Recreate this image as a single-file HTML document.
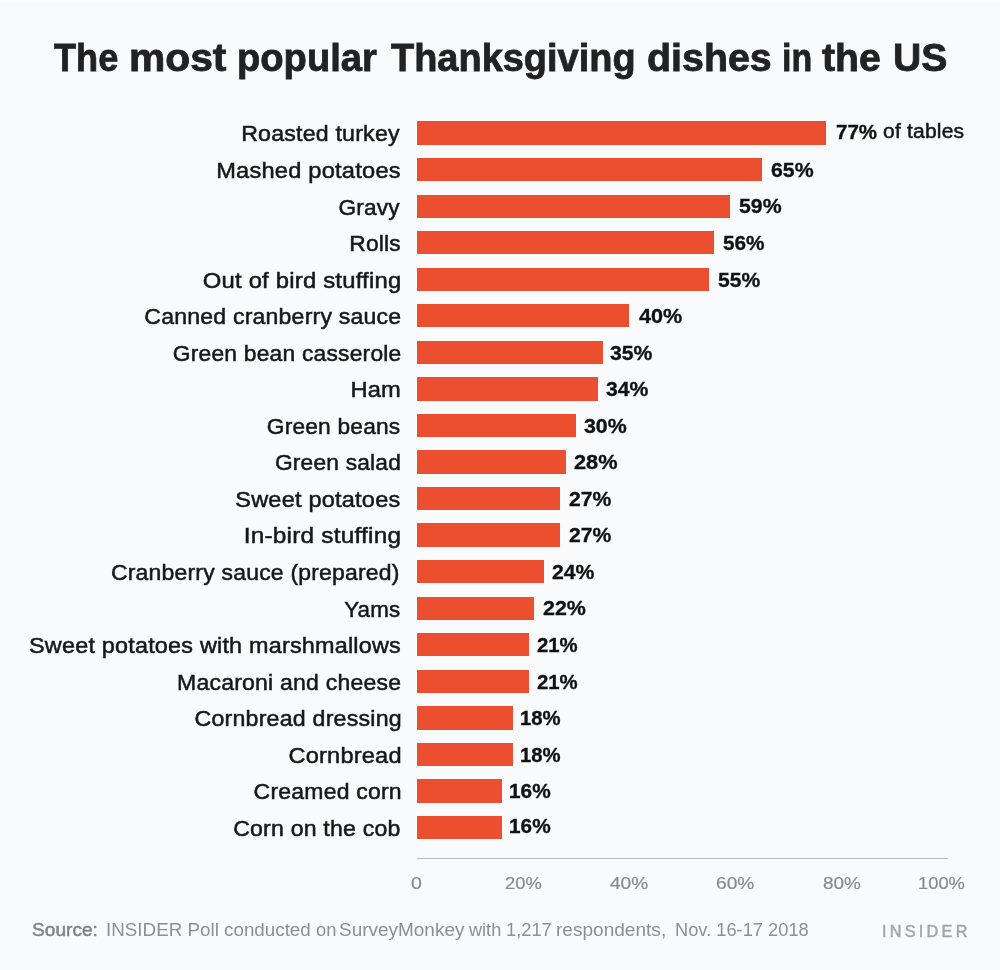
<!DOCTYPE html>
<html lang="en"><head><meta charset="utf-8"><title>The most popular Thanksgiving dishes in the US</title>
<style>
html,body{margin:0;padding:0}
body{width:1000px;height:970px;background:#f9fafc;position:relative;overflow:hidden;font-family:"Liberation Sans",Arial,sans-serif;color:#222}
h1{position:absolute;margin:0;left:0;top:33.5px;width:1000px;height:48px;font-size:39px;line-height:48px;font-weight:bold;color:#222;white-space:nowrap}
h1 span{position:absolute;top:0;display:block;transform-origin:left center;-webkit-text-stroke:0.8px #222}
.lab{position:absolute;height:24px;line-height:24px;font-size:22px;letter-spacing:0.2px;color:#171717;white-space:nowrap;-webkit-text-stroke:0.5px #171717;transform-origin:right center}
.bar{position:absolute;left:417px;height:23.4px;background:#eb4f30}
.val{position:absolute;height:24px;line-height:24px;font-size:19.5px;font-weight:bold;color:#111;-webkit-text-stroke:0.3px #111;white-space:nowrap;transform-origin:left center}
.of{position:absolute;height:24px;line-height:24px;font-size:20px;letter-spacing:0.2px;color:#151515;white-space:nowrap;-webkit-text-stroke:0.5px #151515;transform-origin:left center}
.topband{position:absolute;left:0;top:0;width:1000px;height:7px;background:linear-gradient(#ffffff 0px,#fdfdfe 1.5px,#f7f8fa 3px,#f7f8fa 4.5px,#f9fafc 7px)}
.axis{position:absolute;left:417px;top:857.8px;width:530.5px;height:1.7px;background:#b9b9b9}
.tick{position:absolute;top:873px;font-size:16.5px;line-height:20px;color:#8a8a8a;-webkit-text-stroke:0.2px #8a8a8a;white-space:nowrap;transform-origin:left center}
.src{position:absolute;top:919px;font-size:18.5px;line-height:22px;color:#8f8f8f;white-space:nowrap;transform-origin:left center}
.srcb{color:#828282;-webkit-text-stroke:0.5px #828282}
.logo{position:absolute;left:882.42px;top:921px;font-size:16.5px;line-height:20px;color:#a3a5a8;-webkit-text-stroke:0.5px #a3a5a8;letter-spacing:3.3px;white-space:nowrap;transform-origin:left center}
</style></head><body>

<div class="topband"></div><h1><span style="left:53.92px;transform:scaleX(0.9273)">The</span> <span style="left:129.20px;transform:scaleX(1.0455)">most</span> <span style="left:236.60px;transform:scaleX(0.9784)">popular</span> <span style="left:391.28px;transform:scaleX(0.9729)">Thanksgiving</span> <span style="left:646.79px;transform:scaleX(1.0099)">dishes</span> <span style="left:781.90px;transform:scaleX(0.8705)">in</span> <span style="left:822.24px;transform:scaleX(1.0043)">the</span> <span style="left:893.11px;transform:scaleX(1.0028)">US</span></h1>
<div class="lab" style="top:122.40px;right:600.32px;transform:scaleX(1.0520)">Roasted turkey</div>
<div class="bar" style="top:121.4px;width:408.9px"></div>
<div class="val" style="top:120.2px;left:835.68px;transform:scaleX(1.0515)">77%</div>
<div class="of" style="top:119.4px;left:883.26px;transform:scaleX(1.0501)">of tables</div>
<div class="lab" style="top:158.95px;right:599.28px;transform:scaleX(1.0746)">Mashed potatoes</div>
<div class="bar" style="top:157.9px;width:345.1px"></div>
<div class="val" style="top:157.8px;left:770.95px;transform:scaleX(1.0906)">65%</div>
<div class="lab" style="top:195.50px;right:599.85px;transform:scaleX(1.0269)">Gravy</div>
<div class="bar" style="top:194.5px;width:313.3px"></div>
<div class="val" style="top:194.3px;left:739.16px;transform:scaleX(1.0895)">59%</div>
<div class="lab" style="top:232.05px;right:598.68px;transform:scaleX(1.0358)">Rolls</div>
<div class="bar" style="top:231.1px;width:297.4px"></div>
<div class="val" style="top:230.9px;left:722.62px;transform:scaleX(1.0644)">56%</div>
<div class="lab" style="top:268.60px;right:598.62px;transform:scaleX(1.0832)">Out of bird stuffing</div>
<div class="bar" style="top:267.6px;width:292.0px"></div>
<div class="val" style="top:267.5px;left:718.32px;transform:scaleX(1.0823)">55%</div>
<div class="lab" style="top:305.15px;right:598.78px;transform:scaleX(1.0478)">Canned cranberry sauce</div>
<div class="bar" style="top:304.1px;width:212.4px"></div>
<div class="val" style="top:304.0px;left:638.69px;transform:scaleX(1.1090)">40%</div>
<div class="lab" style="top:341.70px;right:598.83px;transform:scaleX(1.0374)">Green bean casserole</div>
<div class="bar" style="top:340.7px;width:185.8px"></div>
<div class="val" style="top:340.6px;left:609.76px;transform:scaleX(1.0871)">35%</div>
<div class="lab" style="top:378.25px;right:598.74px;transform:scaleX(1.0769)">Ham</div>
<div class="bar" style="top:377.2px;width:180.5px"></div>
<div class="val" style="top:377.1px;left:605.60px;transform:scaleX(1.0871)">34%</div>
<div class="lab" style="top:414.80px;right:599.31px;transform:scaleX(1.0325)">Green beans</div>
<div class="bar" style="top:413.8px;width:159.3px"></div>
<div class="val" style="top:413.6px;left:583.93px;transform:scaleX(1.0947)">30%</div>
<div class="lab" style="top:451.35px;right:599.00px;transform:scaleX(1.0336)">Green salad</div>
<div class="bar" style="top:450.4px;width:148.7px"></div>
<div class="val" style="top:450.2px;left:574.01px;transform:scaleX(1.1138)">28%</div>
<div class="lab" style="top:487.90px;right:599.08px;transform:scaleX(1.0697)">Sweet potatoes</div>
<div class="bar" style="top:486.9px;width:143.4px"></div>
<div class="val" style="top:486.8px;left:568.64px;transform:scaleX(1.0850)">27%</div>
<div class="lab" style="top:524.45px;right:598.83px;transform:scaleX(1.1076)">In-bird stuffing</div>
<div class="bar" style="top:523.4px;width:143.4px"></div>
<div class="val" style="top:523.3px;left:568.64px;transform:scaleX(1.0850)">27%</div>
<div class="lab" style="top:561.00px;right:600.12px;transform:scaleX(1.0435)">Cranberry sauce (prepared)</div>
<div class="bar" style="top:560.0px;width:127.4px"></div>
<div class="val" style="top:559.9px;left:552.21px;transform:scaleX(1.0871)">24%</div>
<div class="lab" style="top:597.55px;right:599.17px;transform:scaleX(1.0148)">Yams</div>
<div class="bar" style="top:596.5px;width:116.8px"></div>
<div class="val" style="top:596.4px;left:542.72px;transform:scaleX(1.1001)">22%</div>
<div class="lab" style="top:634.10px;right:598.58px;transform:scaleX(1.0627)">Sweet potatoes with marshmallows</div>
<div class="bar" style="top:633.1px;width:111.5px"></div>
<div class="val" style="top:632.9px;left:536.81px;transform:scaleX(1.0429)">21%</div>
<div class="lab" style="top:670.65px;right:599.24px;transform:scaleX(1.0463)">Macaroni and cheese</div>
<div class="bar" style="top:669.6px;width:111.5px"></div>
<div class="val" style="top:669.5px;left:536.81px;transform:scaleX(1.0429)">21%</div>
<div class="lab" style="top:707.20px;right:598.57px;transform:scaleX(1.0532)">Cornbread dressing</div>
<div class="bar" style="top:706.2px;width:95.6px"></div>
<div class="val" style="top:706.0px;left:519.55px;transform:scaleX(1.0422)">18%</div>
<div class="lab" style="top:743.75px;right:598.45px;transform:scaleX(1.0714)">Cornbread</div>
<div class="bar" style="top:742.7px;width:95.6px"></div>
<div class="val" style="top:742.6px;left:519.55px;transform:scaleX(1.0422)">18%</div>
<div class="lab" style="top:780.30px;right:598.28px;transform:scaleX(1.0450)">Creamed corn</div>
<div class="bar" style="top:779.3px;width:85.0px"></div>
<div class="val" style="top:779.1px;left:509.38px;transform:scaleX(1.0668)">16%</div>
<div class="lab" style="top:816.85px;right:599.37px;transform:scaleX(1.0493)">Corn on the cob</div>
<div class="bar" style="top:815.8px;width:85.0px"></div>
<div class="val" style="top:813.8px;left:509.38px;transform:scaleX(1.0668)">16%</div>
<div class="axis"></div>
<div class="tick" style="left:411.38px;transform:scaleX(1.1839)">0</div>
<div class="tick" style="left:504.92px;transform:scaleX(1.1107)">20%</div>
<div class="tick" style="left:610.35px;transform:scaleX(1.1548)">40%</div>
<div class="tick" style="left:716.25px;transform:scaleX(1.1597)">60%</div>
<div class="tick" style="left:822.58px;transform:scaleX(1.1479)">80%</div>
<div class="tick" style="left:917.50px;transform:scaleX(1.1117)">100%</div>
<div class="src srcb" style="left:31.75px;transform:scaleX(1.0340)">Source:</div>
<div class="src" style="left:105.98px;transform:scaleX(1.0160)">INSIDER Poll conducted</div>
<div class="src" style="left:315.62px;transform:scaleX(0.9934)">on</div>
<div class="src" style="left:339.25px;transform:scaleX(1.0249)">SurveyMonkey</div>
<div class="src" style="left:469.05px;transform:scaleX(0.9798)">with</div>
<div class="src" style="left:505.84px;transform:scaleX(0.9867)">1,217</div>
<div class="src" style="left:556.24px;transform:scaleX(1.0300)">respondents,</div>
<div class="src" style="left:674.59px;transform:scaleX(0.9874)">Nov. 16-17 2018</div>
<div class="logo" style="transform:scaleX(0.9847)">INSIDER</div>
</body></html>
